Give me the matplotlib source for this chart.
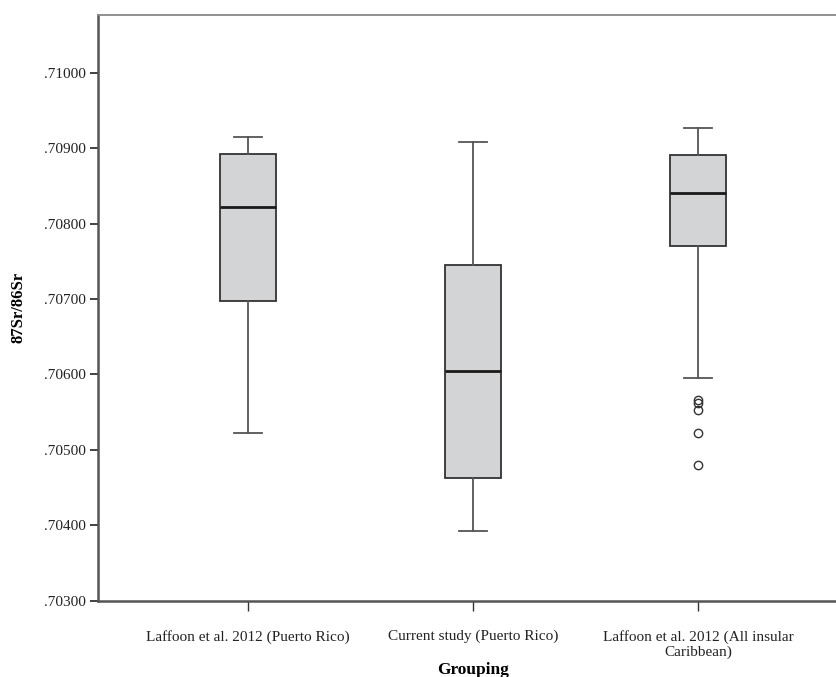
import matplotlib
matplotlib.use('Agg')
import matplotlib.pyplot as plt
from matplotlib.ticker import FixedLocator, FuncFormatter

plt.rcParams['font.family'] = ['Liberation Serif', 'DejaVu Serif']

groups = ['Laffoon et al. 2012 (Puerto Rico)',
          'Current study (Puerto Rico)',
          'Laffoon et al. 2012 (All insular\nCaribbean)']
whis_lo = [0.705229, 0.703930, 0.705956]
q1 = [0.706968, 0.704625, 0.707709]
med = [0.708225, 0.706044, 0.708410]
q3 = [0.708928, 0.707444, 0.708910]
whis_hi = [0.709154, 0.709083, 0.709270]
outliers = [[], [], [0.705662, 0.705626, 0.705530, 0.705229, 0.704801]]

yticks = [0.703, 0.704, 0.705, 0.706, 0.707, 0.708, 0.709, 0.710]

stats = []
for i in range(len(groups)):
    stats.append({'whislo': whis_lo[i], 'q1': q1[i], 'med': med[i],
                  'q3': q3[i], 'whishi': whis_hi[i], 'fliers': outliers[i]})

fig = plt.figure(figsize=(8.36, 6.77), dpi=100)
ax = fig.add_axes([98/836, 1-600.7/677, 750/836, (600.7-15)/677])

ax.bxp(stats, positions=[1, 2, 3], widths=0.252, patch_artist=True,
       boxprops=dict(facecolor='#d3d4d6', edgecolor='#333333', linewidth=1.3),
       medianprops=dict(color='#1a1a1a', linewidth=2.0),
       whiskerprops=dict(color='#555555', linewidth=1.3),
       capprops=dict(color='#555555', linewidth=1.3),
       capwidths=0.126,
       flierprops=dict(marker='o', markersize=6, markerfacecolor='none',
                       markeredgecolor='#333333', markeredgewidth=1.0))

ax.set_xlim(1/3, 3 + 2/3)
ax.set_ylim(0.703, 0.710765)
ax.yaxis.set_major_locator(FixedLocator(yticks))
ax.yaxis.set_major_formatter(FuncFormatter(lambda v, p: ('%.5f' % v)[1:]))
ax.set_xticks([1, 2, 3])
ax.set_xticklabels(groups, fontsize=11, color='#222222')
ax.tick_params(axis='y', labelsize=11, labelcolor='#222222', length=6,
               width=1.3, color='#333333', pad=3)
ax.tick_params(axis='x', length=7, width=1.0, color='#333333', pad=14)

for s in ['left', 'bottom']:
    ax.spines[s].set_color('#555555')
    ax.spines[s].set_linewidth(1.8)
ax.spines['top'].set_color('#888888')
ax.spines['top'].set_linewidth(1.3)
ax.spines['right'].set_visible(False)

ax.set_ylabel('87Sr/86Sr', fontsize=12, fontweight='bold', labelpad=12)
ax.set_xlabel('Grouping', fontsize=12.5, fontweight='bold', labelpad=2)

fig.savefig('out.png', dpi=100)
